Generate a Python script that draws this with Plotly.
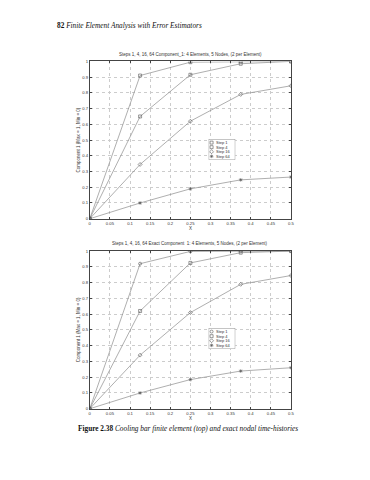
import plotly.graph_objects as go

x_nodes = [0, 0.125, 0.25, 0.375, 0.5]
steps = ["Step 1", "Step 4", "Step 16", "Step 64"]

fe_step1 = [0, 0.91, 0.995, 0.999, 1.0]
fe_step4 = [0, 0.65, 0.915, 0.985, 1.0]
fe_step16 = [0, 0.345, 0.62, 0.79, 0.845]
fe_step64 = [0, 0.10, 0.19, 0.247, 0.265]

ex_step1 = [0, 0.92, 0.998, 0.999, 1.0]
ex_step4 = [0, 0.62, 0.925, 0.99, 1.0]
ex_step16 = [0, 0.34, 0.61, 0.789, 0.845]
ex_step64 = [0, 0.10, 0.185, 0.239, 0.26]

x_ticks = [0, 0.05, 0.1, 0.15, 0.2, 0.25, 0.3, 0.35, 0.4, 0.45, 0.5]
x_tick_labels = ["0", "0.05", "0.1", "0.15", "0.2", "0.25", "0.3", "0.35", "0.4", "0.45", "0.5"]
y_ticks = [0, 0.1, 0.2, 0.3, 0.4, 0.5, 0.6, 0.7, 0.8, 0.9, 1]
y_tick_labels = ["0", "0.1", "0.2", "0.3", "0.4", "0.5", "0.6", "0.7", "0.8", "0.9", "1"]

title_top = "Steps 1, 4, 16, 64 Component_1: 4 Elements, 5 Nodes, (2 per Element)"
title_bot = "Steps 1, 4, 16, 64 Exact Component  1: 4 Elements, 5 Nodes, (2 per Element)"
y_label = "Component 1 (Max = 1, Min = 0)"
header_num = "82"
header_text = "Finite Element Analysis with Error Estimators"
caption_num = "Figure 2.38"
caption_text = "Cooling bar finite element (top) and exact nodal time-histories"

top_symbols = ["square-open", "square-open", "diamond-open", "asterisk-open"]
bot_symbols = ["circle-open", "square-open", "diamond-open", "asterisk-open"]
line_color = "#8c8c8c"
mark_color = "#555555"
text_color = "#333333"
sans = "Liberation Sans, Arial, sans-serif"
serif = "Liberation Serif, Times New Roman, serif"

W, H = 370, 480
def px(v):
    return v / W
def py(v):
    return 1 - v / H

fig = go.Figure()
for name, ys, sym in zip(steps, [fe_step1, fe_step4, fe_step16, fe_step64], top_symbols):
    fig.add_trace(go.Scatter(x=x_nodes, y=ys, name=name, mode="lines+markers", showlegend=False,
                             line=dict(color=line_color, width=0.7),
                             marker=dict(symbol=sym, size=3, color=mark_color, line=dict(width=0.6, color=mark_color)),
                             xaxis="x", yaxis="y"))
for name, ys, sym in zip(steps, [ex_step1, ex_step4, ex_step16, ex_step64], bot_symbols):
    fig.add_trace(go.Scatter(x=x_nodes, y=ys, name=name, mode="lines+markers", showlegend=False,
                             line=dict(color=line_color, width=0.7),
                             marker=dict(symbol=sym, size=3, color=mark_color, line=dict(width=0.6, color=mark_color)),
                             xaxis="x2", yaxis="y2"))

# compact legends drawn on auxiliary axes (box + symbols), labels as annotations
legend_slots = [0.83, 0.61, 0.39, 0.17]
legend_boxes = [
    dict(x0=210.5, x1=237.5, y0=137.5, y1=158.5, xa="x3", ya="y3", syms=top_symbols),
    dict(x0=210.5, x1=237.5, y0=328.5, y1=349.5, xa="x4", ya="y4", syms=bot_symbols),
]
for lb in legend_boxes:
    fig.add_trace(go.Scatter(x=[0, 1, 1, 0, 0], y=[0, 0, 1, 1, 0], mode="lines", fill="toself",
                             fillcolor="white", line=dict(color="#555", width=0.6),
                             hoverinfo="skip", showlegend=False, xaxis=lb["xa"], yaxis=lb["ya"]))
    fig.add_trace(go.Scatter(x=[0.11] * 4, y=legend_slots, mode="markers",
                             marker=dict(symbol=lb["syms"], size=3, color=mark_color,
                                         line=dict(width=0.6, color=mark_color)),
                             hoverinfo="skip", showlegend=False, xaxis=lb["xa"], yaxis=lb["ya"]))
    hbox = lb["y1"] - lb["y0"]
    for name, s in zip(steps, legend_slots):
        fig.add_annotation(x=px(lb["x0"] + 6), y=py(lb["y1"] - s * hbox), xref="paper", yref="paper",
                           text=name, showarrow=False, xanchor="left", yanchor="middle",
                           font=dict(family=sans, size=4, color=text_color), borderpad=0)

xdom = [px(90), px(294)]
ydom_top = [py(218), py(59)]
ydom_bot = [py(410), py(250.7)]

axis_common = dict(showline=True, linecolor="#444", linewidth=0.6, mirror="ticks",
                   ticks="inside", ticklen=2, tickcolor="#444", tickwidth=0.6,
                   showgrid=True, gridcolor="#cccccc", griddash="dot", gridwidth=0.5,
                   zeroline=False, tickfont=dict(family=sans, size=4.2, color=text_color))
hidden = dict(showline=False, showgrid=False, zeroline=False, showticklabels=False, ticks="",
              range=[0, 1], fixedrange=True)

fig.update_layout(
    width=W, height=H,
    margin=dict(l=0, r=0, t=0, b=0),
    paper_bgcolor="white", plot_bgcolor="white",
    showlegend=False,
    xaxis=dict(domain=xdom, anchor="y", range=[0, 0.5], tickvals=x_ticks, ticktext=x_tick_labels,
               title=dict(text="X", font=dict(family=sans, size=4.5, color=text_color), standoff=1), **axis_common),
    yaxis=dict(domain=ydom_top, anchor="x", range=[0, 1], tickvals=y_ticks, ticktext=y_tick_labels, **axis_common),
    xaxis2=dict(domain=xdom, anchor="y2", range=[0, 0.5], tickvals=x_ticks, ticktext=x_tick_labels,
                title=dict(text="X", font=dict(family=sans, size=4.5, color=text_color), standoff=1), **axis_common),
    yaxis2=dict(domain=ydom_bot, anchor="x2", range=[0, 1], tickvals=y_ticks, ticktext=y_tick_labels, **axis_common),
    xaxis3=dict(domain=[px(210.5), px(237.5)], anchor="y3", **hidden),
    yaxis3=dict(domain=[py(158.5), py(137.5)], anchor="x3", **hidden),
    xaxis4=dict(domain=[px(210.5), px(237.5)], anchor="y4", **hidden),
    yaxis4=dict(domain=[py(349.5), py(328.5)], anchor="x4", **hidden),
)

for yc in [(59 + 218) / 2, (250.7 + 410) / 2]:
    fig.add_annotation(x=px(78.5), y=py(yc), xref="paper", yref="paper", text=y_label, textangle=-90,
                       showarrow=False, font=dict(family=sans, size=4.5, color=text_color),
                       xanchor="center", yanchor="middle", borderpad=0)

fig.add_annotation(x=px(192), y=py(52), xref="paper", yref="paper", text=title_top,
                   showarrow=False, font=dict(family=sans, size=4.5, color=text_color), xanchor="center", yanchor="middle")
fig.add_annotation(x=px(192), y=py(243), xref="paper", yref="paper", text=title_bot,
                   showarrow=False, font=dict(family=sans, size=4.5, color=text_color), xanchor="center", yanchor="middle")
fig.add_annotation(x=px(56), y=py(23), xref="paper", yref="paper",
                   text="<b>" + header_num + "</b> <i>" + header_text + "</i>", borderpad=0,
                   showarrow=False, font=dict(family=serif, size=7.3, color="#111"), xanchor="left", yanchor="middle")
fig.add_annotation(x=px(77), y=py(430), xref="paper", yref="paper",
                   text="<b>" + caption_num + "</b> <i>" + caption_text + "</i>", borderpad=0,
                   showarrow=False, font=dict(family=serif, size=7.3, color="#111"), xanchor="left", yanchor="middle")

fig.write_html("out.html", config={"displayModeBar": False},
               post_script="document.body.style.margin='0';document.body.style.overflow='hidden';")
